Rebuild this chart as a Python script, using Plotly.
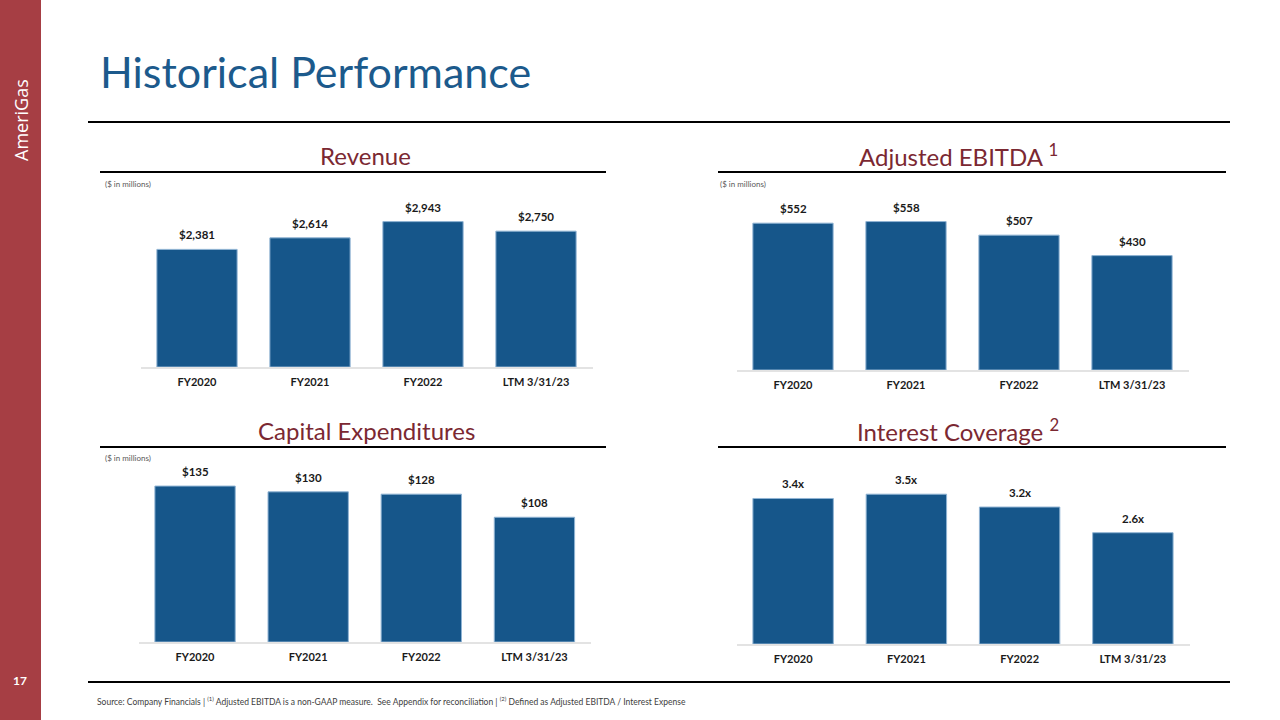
import plotly.graph_objects as go

W, H = 1280, 720

categories = ["FY2020", "FY2021", "FY2022", "LTM 3/31/23"]
revenue = [2381, 2614, 2943, 2750]
revenue_labels = ["$2,381", "$2,614", "$2,943", "$2,750"]
ebitda = [552, 558, 507, 430]
ebitda_labels = ["$552", "$558", "$507", "$430"]
capex = [135, 130, 128, 108]
capex_labels = ["$135", "$130", "$128", "$108"]
coverage = [3.4, 3.5, 3.2, 2.6]
coverage_labels = ["3.4x", "3.5x", "3.2x", "2.6x"]

BAR = "#16568A"
RED = "#7B2832"
BLUE_T = "#1C5A8C"
SIDEBAR = "#A63E44"
FONT = "Lato"


def px(x):
    return x / W


def py(y):
    return 1 - y / H


# panel geometry in pixels
panels = [
    dict(vals=revenue, labels=revenue_labels, x0=140.5, x1=592.5, base=367, top=190, scale=0.0494),
    dict(vals=ebitda, labels=ebitda_labels, x0=736.5, x1=1188.5, base=370, top=190, scale=0.266),
    dict(vals=capex, labels=capex_labels, x0=138.5, x1=591.0, base=642, top=465, scale=1.155),
    dict(vals=coverage, labels=coverage_labels, x0=736.5, x1=1189.5, base=644, top=465, scale=42.8),
]

fig = go.Figure()
annotations = []
shapes = []
layout_axes = {}

for i, p in enumerate(panels, start=1):
    xa = "x" if i == 1 else f"x{i}"
    ya = "y" if i == 1 else f"y{i}"
    fig.add_trace(go.Bar(
        x=categories, y=p["vals"], xaxis=xa, yaxis=ya,
        marker=dict(color=BAR, line=dict(color="#8FB3D3", width=1)),
        width=0.71, showlegend=False, hoverinfo="skip",
    ))
    rmax = (p["base"] - p["top"]) / p["scale"]
    xkey = "xaxis" if i == 1 else f"xaxis{i}"
    ykey = "yaxis" if i == 1 else f"yaxis{i}"
    layout_axes[xkey] = dict(
        domain=[px(p["x0"]), px(p["x1"])], anchor=ya,
        showline=True, linecolor="#E3E3E3", linewidth=2,
        showgrid=False, zeroline=False, ticks="", ticklabelstandoff=4,
        tickfont=dict(family=FONT, size=11, color="#1a1a1a", weight="bold"),
        fixedrange=True,
    )
    layout_axes[ykey] = dict(
        domain=[py(p["base"]), py(p["top"])], anchor=xa,
        range=[0, rmax], visible=False, showgrid=False, fixedrange=True,
    )
    for c, v, lab in zip(categories, p["vals"], p["labels"]):
        annotations.append(dict(
            x=c, y=v, xref=xa, yref=ya, text=f"<b>{lab}</b>", showarrow=False,
            yanchor="bottom", yshift=6,
            font=dict(family=FONT, size=11.5, color="#1a1a1a"),
        ))

# panel titles
titles = [
    ("Revenue", 365, 155),
    ("Adjusted EBITDA <sup>1</sup>", 958, 155),
    ("Capital Expenditures", 366, 430),
    ("Interest Coverage <sup>2</sup>", 958, 430),
]
for t, x, y in titles:
    annotations.append(dict(
        x=px(x), y=py(y), xref="paper", yref="paper", text=t, showarrow=False,
        xanchor="center", yanchor="middle",
        font=dict(family=FONT, size=24, color=RED),
    ))

# ($ in millions)
for x, y in [(103, 184), (718, 184), (103, 458)]:
    annotations.append(dict(
        x=px(x), y=py(y), xref="paper", yref="paper", text="($ in millions)",
        showarrow=False, xanchor="left", yanchor="middle",
        font=dict(family=FONT, size=8, color="#595959"),
    ))

# Main title
annotations.append(dict(
    x=px(98), y=py(72), xref="paper", yref="paper", text="Historical Performance",
    showarrow=False, xanchor="left", yanchor="middle",
    font=dict(family=FONT, size=43, color=BLUE_T),
))

# Sidebar texts
annotations.append(dict(
    x=px(21), y=py(120), xref="paper", yref="paper", text="AmeriGas",
    showarrow=False, textangle=-90, xanchor="center", yanchor="middle",
    font=dict(family="Open Sans", size=18, color="white"),
))
annotations.append(dict(
    x=px(20), y=py(680), xref="paper", yref="paper", text="<b>17</b>",
    showarrow=False, xanchor="center", yanchor="middle",
    font=dict(family=FONT, size=12, color="white"),
))

# Footer
annotations.append(dict(
    x=px(95), y=py(701), xref="paper", yref="paper",
    text=("Source: Company Financials | <sup>(1)</sup> Adjusted EBITDA is a non-GAAP measure.  "
          "See Appendix for reconciliation | <sup>(2)</sup> Defined as Adjusted EBITDA / Interest Expense"),
    showarrow=False, xanchor="left", yanchor="middle",
    font=dict(family=FONT, size=8.5, color="#404040"),
))

# Shapes: sidebar and rule lines
shapes.append(dict(type="rect", xref="paper", yref="paper", x0=0, x1=px(41), y0=0, y1=1,
                   fillcolor=SIDEBAR, line=dict(width=0), layer="below"))
for x0, x1, y in [(88, 1230, 122), (88, 1230, 682), (100, 606, 172), (718, 1226, 172),
                  (100, 606, 447), (718, 1226, 447)]:
    shapes.append(dict(type="line", xref="paper", yref="paper", x0=px(x0), x1=px(x1),
                       y0=py(y), y1=py(y), line=dict(color="black", width=2)))

fig.update_layout(
    width=W, height=H, margin=dict(l=0, r=0, t=0, b=0),
    paper_bgcolor="white", plot_bgcolor="white",
    annotations=annotations, shapes=shapes, bargap=0.29,
    **layout_axes,
)

fig.write_html(
    "out.html",
    config={"displayModeBar": False},
    post_script="document.body.style.margin='0';document.body.style.overflow='hidden';",
)
